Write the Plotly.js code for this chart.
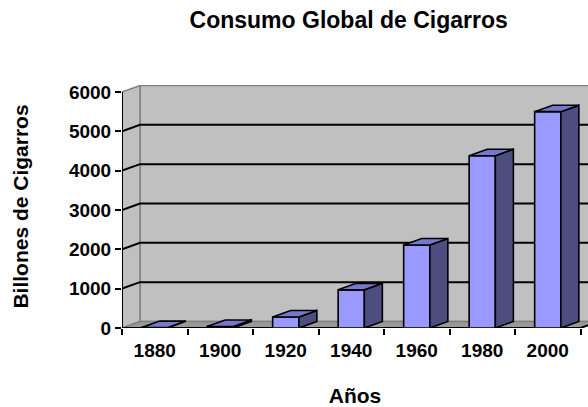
<!DOCTYPE html>
<html>
<head>
<meta charset="utf-8">
<script src="https://cdn.plot.ly/plotly-3.0.1.min.js"></script>
<style>body{margin:0;padding:0;background:#fff}#chart{width:588px;height:407px}</style>
</head>
<body>
<div id="chart"></div>
<script>
// ---- data ----
var years = ['1880', '1900', '1920', '1940', '1960', '1980', '2000'];
var consumption = [10, 40, 280, 970, 2110, 4380, 5500];
var yTicks = [0, 1000, 2000, 3000, 4000, 5000, 6000];

// ---- style / 3D geometry (pixel-derived constants) ----
var FONT = 'Liberation Sans, Arial, sans-serif';
var halfW = 0.2;        // half width of bar front face (category units)
var DX = 0.275;         // depth offset in x (category units)
var DY = 165;           // depth offset in y (value units)
var X0 = -0.5, X1 = years.length - 0.5;
var YMAX = yTicks[yTicks.length - 1];

var idx = years.map(function (_, i) { return i; });

var traces = [];
// front faces
traces.push({
  type: 'bar', x: idx, y: consumption, width: 2 * halfW,
  marker: {color: '#9999ff', line: {color: '#000', width: 1.6}},
  hoverinfo: 'skip'
});
idx.forEach(function (i) {
  var v = consumption[i];
  var r = i + halfW, l = i - halfW;
  // side face
  traces.push({
    type: 'scatter', mode: 'lines', fill: 'toself', fillcolor: '#4d4d80',
    x: [r, r + DX, r + DX, r, r], y: [0, DY, v + DY, v, 0],
    line: {color: '#000', width: 1.6}, hoverinfo: 'skip'
  });
  // top face
  traces.push({
    type: 'scatter', mode: 'lines', fill: 'toself', fillcolor: '#7777cc',
    x: [l, r, r + DX, l + DX, l], y: [v, v, v + DY, v + DY, v],
    line: {color: '#000', width: 1.6}, hoverinfo: 'skip'
  });
});

var shapes = [];
// back wall
shapes.push({type: 'rect', layer: 'below', xref: 'x', yref: 'y',
  x0: X0 + DX, x1: X1 + 2, y0: DY, y1: YMAX + DY,
  fillcolor: '#c0c0c0', line: {color: '#808080', width: 1.5}});
// side wall
shapes.push({type: 'path', layer: 'below', xref: 'x', yref: 'y',
  path: 'M' + X0 + ',0 L' + (X0 + DX) + ',' + DY + ' L' + (X0 + DX) + ',' + (YMAX + DY) + ' L' + X0 + ',' + YMAX + ' Z',
  fillcolor: '#c0c0c0', line: {color: '#808080', width: 1.5}});
// floor
shapes.push({type: 'path', layer: 'below', xref: 'x', yref: 'y',
  path: 'M' + X0 + ',0 L' + X1 + ',0 L' + (X1 + DX) + ',' + DY + ' L' + (X0 + DX) + ',' + DY + ' Z',
  fillcolor: '#999999', line: {color: '#808080', width: 1.5}});
// gridlines
yTicks.slice(1, -1).forEach(function (v) {
  shapes.push({type: 'path', layer: 'below', xref: 'x', yref: 'y',
    path: 'M' + X0 + ',' + v + ' L' + (X0 + DX) + ',' + (v + DY) + ' L' + (X1 + 2) + ',' + (v + DY),
    line: {color: '#000', width: 2}});
});
// axis lines
shapes.push({type: 'line', layer: 'below', xref: 'x', yref: 'y',
  x0: X0, x1: X0, y0: 0, y1: YMAX, line: {color: '#000', width: 2}});
shapes.push({type: 'path', layer: 'below', xref: 'x', yref: 'y',
  path: 'M' + X0 + ',0 L' + X1 + ',0 L' + (X1 + DX) + ',' + DY,
  line: {color: '#000', width: 2}});

var layout = {
  width: 588, height: 407,
  margin: {l: 122, r: 0, t: 85, b: 79},
  paper_bgcolor: '#fff', plot_bgcolor: 'rgba(0,0,0,0)',
  showlegend: false, hovermode: false,
  title: {text: 'Consumo Global de Cigarros', x: 0.593, xanchor: 'center', y: 0.951, yanchor: 'middle',
    font: {family: FONT, size: 23, weight: 'bold', color: '#000'}},
  xaxis: {
    range: [X0, X0 + 466 / 65.5], fixedrange: true,
    tickmode: 'array', tickvals: idx, ticktext: years, ticks: '',
    showgrid: false, zeroline: false, showline: false,
    tickfont: {family: FONT, size: 19, weight: 'bold', color: '#000'},
    ticklabelstandoff: 9,
    minor: {tickmode: 'linear', tick0: -0.5, dtick: 1, ticks: 'outside', ticklen: 6, tickwidth: 2, tickcolor: '#000', showgrid: false},
    title: {text: 'Años', standoff: 29, font: {family: FONT, size: 21, weight: 'bold', color: '#000'}}
  },
  yaxis: {
    range: [0, 6178], fixedrange: true,
    tickmode: 'array', tickvals: yTicks, ticks: 'outside', ticklen: 6, tickwidth: 2, tickcolor: '#000',
    showgrid: false, zeroline: false, showline: false,
    tickfont: {family: FONT, size: 19, weight: 'bold', color: '#000'},
    title: {text: 'Billones de Cigarros', standoff: 34, font: {family: FONT, size: 21, weight: 'bold', color: '#000'}}
  },
  shapes: shapes
};

Plotly.newPlot('chart', traces, layout, {staticPlot: true, displayModeBar: false});
</script>
</body>
</html>
